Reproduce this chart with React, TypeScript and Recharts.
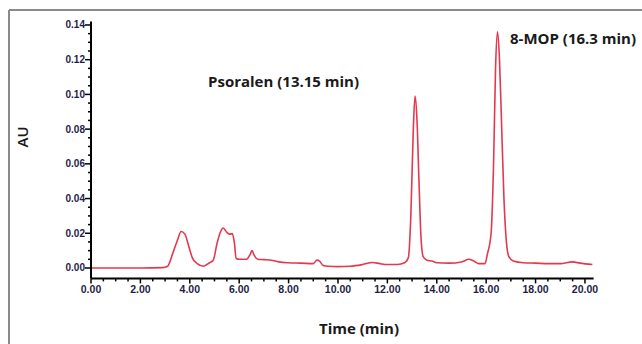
import { CartesianGrid, Line, LineChart, XAxis, YAxis } from "recharts";

// retention time (min)
const times = [
  0, 1, 2, 2.9, 3.1, 3.3, 3.5, 3.65, 3.8, 3.95, 4.1, 4.3, 4.55, 4.8, 4.95, 5.1, 5.25, 5.35, 5.5, 5.6, 5.72,
  5.8, 5.88, 6.0, 6.3, 6.45, 6.52, 6.6, 6.75, 7.0, 7.3, 7.6, 8.0, 8.5, 9.0, 9.15, 9.25, 9.4, 9.6, 10.0, 10.5,
  11.0, 11.4, 11.7, 12.0, 12.4, 12.7, 12.85, 12.95, 13.05, 13.12, 13.2, 13.28, 13.36, 13.45, 13.6, 13.8, 14.0,
  14.5, 15.0, 15.3, 15.5, 15.7, 15.95, 16.05, 16.2, 16.3, 16.38, 16.46, 16.54, 16.62, 16.72, 16.82, 16.92,
  17.1, 17.5, 18.0, 18.5, 19.0, 19.5, 19.8, 20.3,
];

// absorbance (AU)
const absorbance = [
  0, 0, 0, 0.0002, 0.001, 0.008, 0.016, 0.021, 0.0195, 0.013, 0.006, 0.0025, 0.001, 0.003, 0.0045, 0.014,
  0.021, 0.023, 0.0205, 0.0195, 0.0198, 0.015, 0.0055, 0.005, 0.005, 0.008, 0.01, 0.0075, 0.005, 0.0048,
  0.0045, 0.0035, 0.003, 0.0028, 0.0025, 0.0045, 0.004, 0.0015, 0.001, 0.0008, 0.001, 0.002, 0.0032, 0.0025,
  0.002, 0.002, 0.003, 0.006, 0.03, 0.08, 0.099, 0.085, 0.05, 0.018, 0.0065, 0.0045, 0.004, 0.003, 0.0028,
  0.0035, 0.005, 0.004, 0.0025, 0.0025, 0.008, 0.02, 0.06, 0.115, 0.136, 0.12, 0.085, 0.04, 0.015, 0.0065,
  0.004, 0.003, 0.0028, 0.0025, 0.0025, 0.0035, 0.0028, 0.002,
];

const xMajorTicks = [0, 2, 4, 6, 8, 10, 12, 14, 16, 18, 20];
const yMajorTicks = [0, 0.02, 0.04, 0.06, 0.08, 0.1, 0.12, 0.14];

const xTicks = Array.from({ length: 41 }, (_, i) => i * 0.5);
const yTicks = Array.from({ length: 29 }, (_, i) => Math.round(i * 5) / 1000);

const data = times.map((t, i) => ({ t, au: absorbance[i] }));

const isMajor = (v: number, list: number[]) => list.some((m) => Math.abs(m - v) < 1e-6);

const labelStyle = { fontFamily: "Liberation Sans, Arial, sans-serif", fontWeight: 700, fill: "#1e1e46" };

function XTick({ x, y, payload }: any) {
  const major = isMajor(payload.value, xMajorTicks);
  return (
    <g>
      <line x1={x} x2={x} y1={y} y2={y + (major ? 5 : 3)} stroke="#000" strokeWidth={1.5} />
      {major && (
        <text x={x} y={y + 15} textAnchor="middle" fontSize={10.5} {...labelStyle}>
          {payload.value.toFixed(2)}
        </text>
      )}
    </g>
  );
}

function YTick({ x, y, payload }: any) {
  const major = isMajor(payload.value, yMajorTicks);
  return (
    <g>
      <line x1={x - (major ? 6 : 3)} x2={x} y1={y} y2={y} stroke="#000" strokeWidth={1.5} />
      {major && (
        <text x={x - 6} y={y + 3.5} textAnchor="end" fontSize={10} {...labelStyle}>
          {payload.value.toFixed(2)}
        </text>
      )}
    </g>
  );
}

const titleFont = "Open Sans, Lato, sans-serif";

export default function App() {
  return (
    <div style={{ position: "absolute", left: 0, top: 0, width: 642, height: 344, overflow: "hidden", background: "#fff" }}>
      <LineChart width={642} height={344} data={data} margin={{ top: 21.5, right: 48.4, left: 31, bottom: 35.6 }}>
        <CartesianGrid stroke="none" />
        <XAxis
          dataKey="t"
          type="number"
          domain={[0, 20.35]}
          ticks={xTicks}
          interval={0}
          height={30}
          tickLine={false}
          tickSize={0}
          tickMargin={0}
          axisLine={{ stroke: "#000", strokeWidth: 2 }}
          tick={<XTick />}
        />
        <YAxis
          type="number"
          domain={[-0.006, 0.142]}
          ticks={yTicks}
          interval={0}
          width={60}
          tickLine={false}
          tickSize={0}
          tickMargin={0}
          axisLine={{ stroke: "#000", strokeWidth: 2 }}
          tick={<YTick />}
        />
        <Line
          type="monotone"
          dataKey="au"
          stroke="#e4384e"
          strokeWidth={1.6}
          dot={false}
          isAnimationActive={false}
        />
      </LineChart>
      <svg width={642} height={344} style={{ position: "absolute", left: 0, top: 0, pointerEvents: "none" }}>
        <line x1={9} y1={10} x2={642} y2={10} stroke="#8a8a8a" strokeWidth={2} />
        <line x1={9} y1={10} x2={9} y2={344} stroke="#8a8a8a" strokeWidth={2} />
        <text x={28} y={137} transform="rotate(-90 28 137)" textAnchor="middle" fontSize={15} fontFamily={titleFont} fontWeight={600} fill="#1a1a1a">
          AU
        </text>
        <text x={359} y={334} textAnchor="middle" fontSize={15} fontFamily={titleFont} fontWeight={700} fill="#1a1a1a">
          Time (min)
        </text>
        <text x={208} y={87} fontSize={15} fontFamily={titleFont} fontWeight={700} fill="#1a1a1a">
          Psoralen (13.15 min)
        </text>
        <text x={510} y={44} fontSize={15} fontFamily={titleFont} fontWeight={700} fill="#1a1a1a">
          8-MOP (16.3 min)
        </text>
      </svg>
    </div>
  );
}
